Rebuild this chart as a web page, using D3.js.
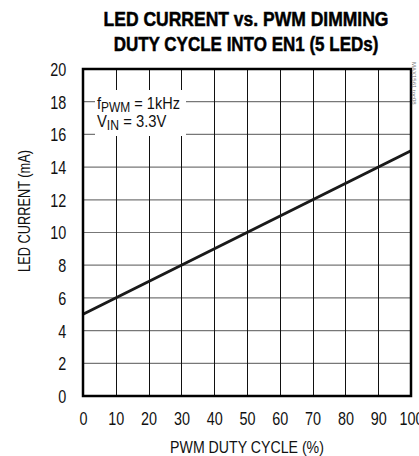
<!DOCTYPE html>
<html>
<head>
<meta charset="utf-8">
<script src="https://cdn.jsdelivr.net/npm/d3@7"></script>
<style>
  html, body { margin: 0; padding: 0; background: #fff; }
  svg { display: block; font-family: "Liberation Sans", Arial, sans-serif; }
</style>
</head>
<body>
<script>
const titleLines = ["LED CURRENT vs. PWM DIMMING", "DUTY CYCLE INTO EN1 (5 LEDs)"];
const dutyCycle = [0, 100];
const ledCurrent = [5, 15];
const xTicks = [0, 10, 20, 30, 40, 50, 60, 70, 80, 90, 100];
const yTicks = [0, 2, 4, 6, 8, 10, 12, 14, 16, 18, 20];
const xTitle = "PWM DUTY CYCLE (%)";
const yTitle = "LED CURRENT (mA)";

const width = 419, height = 456;
const margin = { top: 69, right: 8, bottom: 60, left: 83 };
const squeeze = 0.8; // condensed look for tick numbers

const svg = d3.select("body").append("svg")
    .attr("width", width)
    .attr("height", height);

const x = d3.scaleLinear().domain([0, 100]).range([margin.left, width - margin.right]);
const y = d3.scaleLinear().domain([0, 20]).range([height - margin.bottom, margin.top]);

// squash a text horizontally so it spans w pixels, keeping its anchor point
function fitWidth(sel, w, cx) {
    sel.each(function() {
        const bw = this.getBBox().width;
        const s = w / bw;
        const x0 = cx != null ? cx : +this.getAttribute("x");
        d3.select(this).attr("transform", `translate(${x0},0) scale(${s},1) translate(${-x0},0)`);
    });
}

// title
svg.append("g").selectAll("text")
    .data(titleLines)
    .enter().append("text")
    .attr("x", 246)
    .attr("y", (d, i) => 26 + i * 25)
    .attr("text-anchor", "middle")
    .style("font-size", "20px")
    .style("font-weight", "bold")
    .attr("stroke", "#000")
    .attr("stroke-width", 0.5)
    .text(d => d)
    .each(function(d, i) { fitWidth(d3.select(this), i === 0 ? 285 : 265, 246); });

// grid
svg.append("g").selectAll("line")
    .data(yTicks.slice(1, -1))
    .enter().append("line")
    .attr("x1", x(0)).attr("x2", x(100))
    .attr("y1", d => y(d)).attr("y2", d => y(d))
    .attr("stroke", "#777")
    .attr("stroke-width", 1.2);

svg.append("g").selectAll("line")
    .data(xTicks.slice(1, -1))
    .enter().append("line")
    .attr("y1", y(0)).attr("y2", y(20))
    .attr("x1", d => Math.round(x(d)) + 0.5).attr("x2", d => Math.round(x(d)) + 0.5)
    .attr("stroke", "#111")
    .attr("stroke-width", 1);

// legend box (white behind text)
svg.append("rect")
    .attr("x", 95).attr("y", 90)
    .attr("width", 91).attr("height", 46)
    .attr("fill", "#fff");

const leg = svg.append("g").style("font-size", "17px").attr("fill", "#111");
const l1 = leg.append("text").attr("x", 97).attr("y", 109);
l1.append("tspan").text("f");
l1.append("tspan").attr("dy", 3).style("font-size", "14px").text("PWM");
l1.append("tspan").attr("dy", -3).text(" = 1kHz");
fitWidth(l1, 83);
const l2 = leg.append("text").attr("x", 97).attr("y", 127);
l2.append("tspan").text("V");
l2.append("tspan").attr("dy", 3).style("font-size", "14px").text("IN");
l2.append("tspan").attr("dy", -3).text(" = 3.3V");
fitWidth(l2, 70);

// data line
const line = d3.line()
    .x(d => x(d[0]))
    .y(d => y(d[1]));

svg.append("path")
    .datum(dutyCycle.map((d, i) => [d, ledCurrent[i]]))
    .attr("fill", "none")
    .attr("stroke", "#1a1a1a")
    .attr("stroke-width", 3)
    .attr("d", line);

// frame
svg.append("rect")
    .attr("x", x(0)).attr("y", y(20))
    .attr("width", x(100) - x(0)).attr("height", y(0) - y(20))
    .attr("fill", "none")
    .attr("stroke", "#000")
    .attr("stroke-width", 2.5);

// axes (labels only)
const xAxis = svg.append("g")
    .attr("transform", `translate(0,${y(0)})`)
    .call(d3.axisBottom(x).tickValues(xTicks).tickSize(0).tickPadding(16));
xAxis.attr("font-family", null).attr("font-size", null);
xAxis.select(".domain").remove();
xAxis.selectAll("text")
    .style("font-size", "18px")
    .attr("fill", "#111")
    .attr("transform", `scale(${squeeze},1)`);

const yAxis = svg.append("g")
    .attr("transform", `translate(${x(0)},0)`)
    .call(d3.axisLeft(y).tickValues(yTicks).tickSize(0).tickPadding(21));
yAxis.attr("font-family", null).attr("font-size", null);
yAxis.select(".domain").remove();
yAxis.selectAll("text")
    .style("font-size", "18px")
    .attr("fill", "#111")
    .attr("dy", "0.36em")
    .attr("transform", `scale(${squeeze},1)`);

// axis titles
const xt = svg.append("text")
    .attr("x", 247)
    .attr("y", 453)
    .attr("text-anchor", "middle")
    .style("font-size", "17px")
    .attr("fill", "#111")
    .text(xTitle);
fitWidth(xt, 154);

const ytg = svg.append("g").attr("transform", "translate(30,211) rotate(-90)");
const yt = ytg.append("text")
    .attr("x", 0)
    .attr("y", 0)
    .attr("text-anchor", "middle")
    .style("font-size", "17px")
    .attr("fill", "#111")
    .text(yTitle);
fitWidth(yt, 122, 0);

// figure id, rotated at right edge
svg.append("text")
    .attr("transform", `translate(412,62) rotate(90)`)
    .style("font-size", "6px")
    .attr("fill", "#777")
    .text("MAX1561 toc08");
</script>
</body>
</html>
